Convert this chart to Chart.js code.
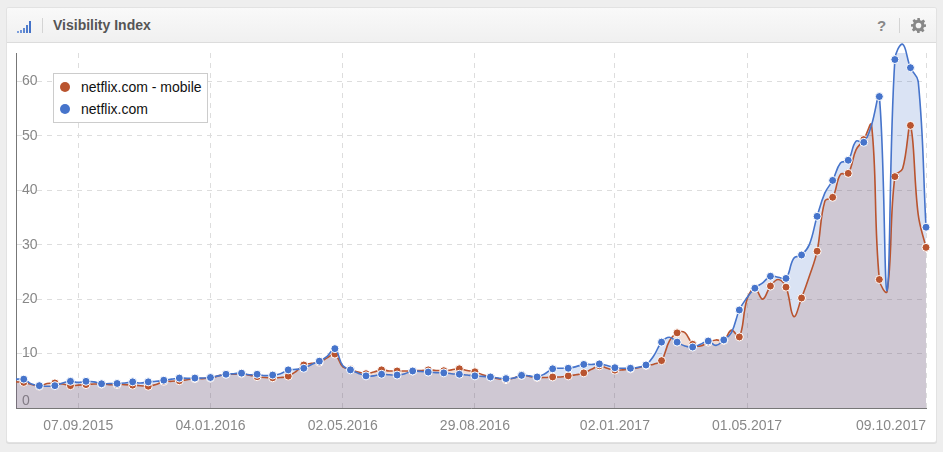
<!DOCTYPE html>
<html>
<head>
<meta charset="utf-8">
<title>Visibility Index</title>
<script src="https://cdn.jsdelivr.net/npm/chart.js@4"></script>
<style>
  html, body { margin: 0; padding: 0; width: 943px; height: 452px; overflow: hidden; background: #eeeeee; font-family: "Liberation Sans", Arial, sans-serif; }
  #panel { position: absolute; left: 7px; top: 8px; width: 929px; height: 434px; background: #fff; border-radius: 2px; box-shadow: 0 0 0 1px #e2e2e2, 0 1px 0 1px #dcdcdc; }
  #header { position: absolute; left: 7px; top: 8px; width: 929px; height: 34px; background: linear-gradient(#f9f9f9, #f0f0f0); border-bottom: 1px solid #dcdcdc; border-radius: 2px 2px 0 0; }
  #title { position: absolute; left: 46px; top: 9px; font-size: 14px; font-weight: bold; line-height: 16px; color: #555; }
  .sep { position: absolute; top: 10px; width: 1px; height: 15px; background: #d4d4d4; }
  #help { position: absolute; left: 870px; top: 9px; font-size: 15px; font-weight: bold; line-height: 17px; color: #888; }
  #signal { position: absolute; left: 10px; top: 11px; }
  #gear { position: absolute; left: 904px; top: 10px; }
  #chart { position: absolute; left: 0; top: 43px; }
  #legend { position: absolute; left: 53px; top: 73px; width: 153px; height: 48px; background: #fff; border: 1px solid #ccc; font-size: 14px; color: #111; }
  .row { position: absolute; left: 27px; line-height: 16px; white-space: nowrap; }
  .dot { position: absolute; left: -21px; top: 3px; width: 10px; height: 10px; border-radius: 50%; }
</style>
</head>
<body>
<div id="panel"></div>
<canvas id="chart" width="943" height="401"></canvas>
<div id="header">
  <svg id="signal" width="16" height="15" viewBox="0 0 16 15">
    <rect x="0" y="12" width="2" height="2" fill="#7d9fdc"/>
    <rect x="3" y="11" width="2" height="3" fill="#6f94d8"/>
    <rect x="6" y="9" width="2" height="5" fill="#5f88d2"/>
    <rect x="9" y="6" width="2" height="8" fill="#4f7ccc"/>
    <rect x="12" y="2" width="2" height="12" fill="#4472c8"/>
  </svg>
  <div class="sep" style="left:35px"></div>
  <div id="title">Visibility Index</div>
  <div id="help">?</div>
  <div class="sep" style="left:892px"></div>
  <svg id="gear" width="15" height="15" viewBox="0 0 24 24">
    <path fill="#888" fill-rule="evenodd" d="M10 0h4l.6 3.4 2.4 1 2.8-2 2.8 2.8-2 2.8 1 2.4L24 10v4l-3.4.6-1 2.4 2 2.8-2.8 2.8-2.8-2-2.4 1L14 24h-4l-.6-3.4-2.4-1-2.8 2-2.8-2.8 2-2.8-1-2.4L0 14v-4l3.4-.6 1-2.4-2-2.8 2.8-2.8 2.8 2 2.4-1zM12 7.5a4.5 4.5 0 1 0 0 9 4.5 4.5 0 0 0 0-9z"/>
  </svg>
</div>
<div id="legend"></div>

<script>
const weeks = [
  "13.07.2015", "20.07.2015", "27.07.2015", "03.08.2015", "10.08.2015", "17.08.2015", "24.08.2015", "31.08.2015", "07.09.2015", "14.09.2015",
  "21.09.2015", "28.09.2015", "05.10.2015", "12.10.2015", "19.10.2015", "26.10.2015", "02.11.2015", "09.11.2015", "16.11.2015", "23.11.2015",
  "30.11.2015", "07.12.2015", "14.12.2015", "21.12.2015", "28.12.2015", "04.01.2016", "11.01.2016", "18.01.2016", "25.01.2016", "01.02.2016",
  "08.02.2016", "15.02.2016", "22.02.2016", "29.02.2016", "07.03.2016", "14.03.2016", "21.03.2016", "28.03.2016", "04.04.2016", "11.04.2016",
  "18.04.2016", "25.04.2016", "02.05.2016", "09.05.2016", "16.05.2016", "23.05.2016", "30.05.2016", "06.06.2016", "13.06.2016", "20.06.2016",
  "27.06.2016", "04.07.2016", "11.07.2016", "18.07.2016", "25.07.2016", "01.08.2016", "08.08.2016", "15.08.2016", "22.08.2016", "29.08.2016",
  "05.09.2016", "12.09.2016", "19.09.2016", "26.09.2016", "03.10.2016", "10.10.2016", "17.10.2016", "24.10.2016", "31.10.2016", "07.11.2016",
  "14.11.2016", "21.11.2016", "28.11.2016", "05.12.2016", "12.12.2016", "19.12.2016", "26.12.2016", "02.01.2017", "09.01.2017", "16.01.2017",
  "23.01.2017", "30.01.2017", "06.02.2017", "13.02.2017", "20.02.2017", "27.02.2017", "06.03.2017", "13.03.2017", "20.03.2017", "27.03.2017",
  "03.04.2017", "10.04.2017", "17.04.2017", "24.04.2017", "01.05.2017", "08.05.2017", "15.05.2017", "22.05.2017", "29.05.2017", "05.06.2017",
  "12.06.2017", "19.06.2017", "26.06.2017", "03.07.2017", "10.07.2017", "17.07.2017", "24.07.2017", "31.07.2017", "07.08.2017", "14.08.2017",
  "21.08.2017", "28.08.2017", "04.09.2017", "11.09.2017", "18.09.2017", "25.09.2017", "02.10.2017", "09.10.2017"
];

const desktopValues = [
  5.3, 5.3, 4.4, 4.1, 4.0, 4.1, 4.6, 4.9, 4.7, 4.9,
  4.8, 4.45, 4.5, 4.5, 4.6, 4.8, 4.6, 4.8, 4.9, 5.1,
  5.3, 5.5, 5.45, 5.5, 5.5, 5.6, 5.9, 6.2, 6.3, 6.4,
  6.1, 6.2, 5.95, 6.05, 6.3, 7.0, 7.1, 7.3, 8.0, 8.6,
  9.5, 10.9, 7.8, 7.0, 6.4, 5.9, 5.9, 6.2, 6.1, 6.05,
  6.3, 6.8, 6.7, 6.6, 6.5, 6.45, 6.3, 6.2, 6.05, 5.9,
  5.8, 5.7, 5.5, 5.4, 5.5, 6.0, 5.9, 5.7, 6.3, 7.2,
  7.3, 7.3, 7.6, 8.0, 8.0, 8.1, 7.8, 7.4, 7.3, 7.3,
  7.5, 7.9, 9.6, 12.1, 13.0, 12.1, 11.4, 11.2, 11.7, 12.3,
  11.5, 12.5, 13.9, 18.0, 20.3, 22.0, 23.0, 24.2, 24.0, 23.8,
  27.5, 28.1, 30.0, 35.2, 39.5, 41.8, 45.0, 45.5, 49.0, 48.8,
  52.0, 57.2, 21.6, 64.0, 66.8, 62.5, 60.0, 33.2
];

const mobileValues = [
  4.8, 4.7, 4.3, 4.0, 4.5, 4.6, 4.4, 4.1, 4.2, 4.3,
  4.4, 4.4, 4.3, 4.3, 4.3, 4.2, 4.1, 4.0, 4.3, 4.9,
  4.9, 5.0, 5.2, 5.4, 5.4, 5.5, 5.9, 6.2, 6.2, 6.3,
  6.0, 5.75, 5.6, 5.55, 5.6, 5.85, 6.7, 7.9, 8.2, 8.4,
  9.2, 9.9, 7.6, 7.1, 6.6, 6.3, 6.6, 7.0, 6.8, 6.8,
  6.8, 6.8, 6.9, 7.0, 6.9, 6.85, 7.0, 7.2, 6.9, 6.65,
  6.1, 5.7, 5.4, 5.2, 5.5, 6.0, 5.8, 5.6, 5.6, 5.7,
  5.7, 5.9, 6.1, 6.45, 7.1, 7.75, 7.3, 6.95, 7.0, 7.2,
  7.4, 7.8, 8.05, 8.7, 12.3, 13.8, 13.85, 11.7, 11.4, 12.1,
  12.5, 12.4, 14.3, 13.05, 20.0, 22.0, 20.0, 22.4, 23.6, 22.2,
  16.8, 20.2, 24.2, 28.8, 38.0, 38.7, 42.9, 43.1, 47.4, 49.3,
  52.0, 23.6, 21.4, 42.5, 44.0, 51.9, 35.5, 29.5
];

const tickDates = ["07.09.2015", "04.01.2016", "02.05.2016", "29.08.2016", "02.01.2017", "01.05.2017", "09.10.2017"];
const seriesNames = ["netflix.com - mobile", "netflix.com"];
const seriesColors = ["#b9542f", "#4674cb"];

const legend = document.getElementById("legend");
seriesNames.forEach((name, i) => {
  const row = document.createElement("div");
  row.className = "row";
  row.style.top = 5 + i * 22 + "px";
  row.textContent = name;
  const dot = document.createElement("span");
  dot.className = "dot";
  dot.style.background = seriesColors[i];
  row.appendChild(dot);
  legend.appendChild(row);
});

function seriesStyle(label, values, color, fill) {
  return {
    label,
    data: values,
    borderColor: color,
    backgroundColor: fill,
    borderWidth: 1.6,
    fill: "origin",
    tension: 0.4,
    // every second week carries a marker
    pointRadius: (ctx) => (ctx.dataIndex % 2 ? 4 : 0),
    pointBackgroundColor: color,
    pointBorderColor: "#fff",
    pointBorderWidth: 1,
    clip: { left: 0, right: 8, top: 10, bottom: 0 },
  };
}

// the last date sits at the right edge, so its label ends there instead of centring
const lastLabelRight = {
  id: "lastLabelRight",
  beforeDraw(chart) {
    const items = chart.scales.x.getLabelItems();
    items[items.length - 1].options.textAlign = "right";
  },
};

new Chart(document.getElementById("chart"), {
  type: "line",
  data: {
    labels: weeks,
    datasets: [
      seriesStyle(seriesNames[1], desktopValues, seriesColors[1], "rgba(69, 114, 200, 0.2)"),
      seriesStyle(seriesNames[0], mobileValues, seriesColors[0], "rgba(185, 84, 47, 0.2)"),
    ],
  },
  options: {
    responsive: false,
    animation: false,
    events: [],
    layout: { padding: { left: 16, right: 17, top: 10, bottom: 0 } },
    plugins: {
      legend: { display: false },
      tooltip: { enabled: false },
      filler: { drawTime: "beforeDatasetsDraw" },
    },
    scales: {
      x: {
        afterBuildTicks(axis) {
          axis.ticks = axis.ticks.filter((t) => tickDates.includes(weeks[t.value]));
        },
        afterFit(axis) {
          axis.paddingLeft = 0;
          axis.paddingRight = 0;
        },
        grid: { color: "#dddddd", drawTicks: false },
        border: { color: "#777777", width: 1, dash: [5, 5] },
        ticks: {
          autoSkip: false,
          maxRotation: 0,
          padding: 11,
          color: "#888888",
          font: { family: "Liberation Sans", size: 14, lineHeight: 1 },
        },
      },
      y: {
        min: 0,
        max: 65.2,
        afterFit(axis) {
          axis.width = 0;
          axis.paddingTop = 0;
          axis.paddingBottom = 0;
        },
        grid: { color: "#dddddd", drawTicks: false },
        border: { color: "#777777", width: 1, dash: [5, 5] },
        ticks: {
          stepSize: 10,
          includeBounds: false,
          mirror: true,
          padding: 6,
          color: "#888888",
          font: { family: "Liberation Sans", size: 14, lineHeight: 1 },
          // the 0 sits above the axis line rather than on it
          callback: (value) => (value === 0 ? ["0", ""] : String(value)),
        },
      },
    },
  },
  plugins: [lastLabelRight],
});
</script>
</body>
</html>
